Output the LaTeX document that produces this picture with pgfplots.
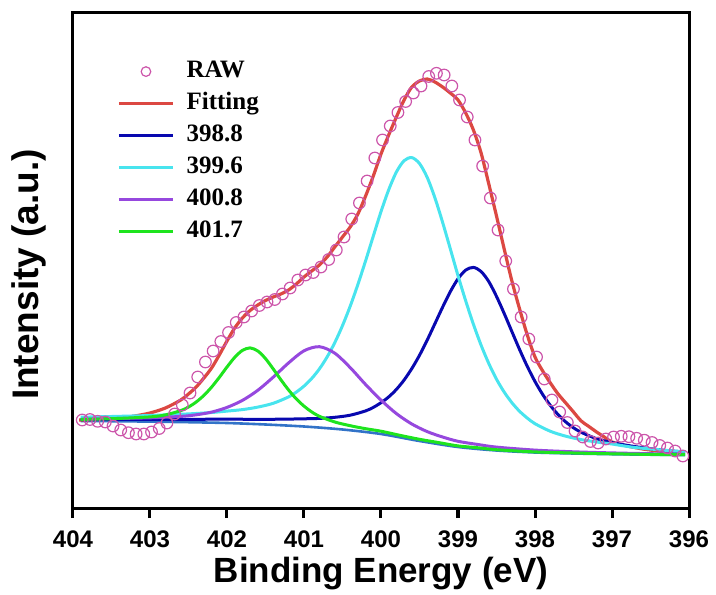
\documentclass[border=0pt]{standalone}
\usepackage{fontspec}
\setmainfont{Liberation Sans}
\newfontfamily\legendfont{Liberation Serif}
\usepackage{pgfplots}
\pgfplotsset{compat=1.18}

\definecolor{rawc}{RGB}{204,85,170}
\definecolor{fitc}{RGB}{220,72,66}
\definecolor{pkA}{RGB}{8,8,175}
\definecolor{pkB}{RGB}{72,228,238}
\definecolor{pkC}{RGB}{150,72,222}
\definecolor{pkD}{RGB}{30,228,30}
\definecolor{bgc}{RGB}{50,115,200}

\pgfplotsset{
  seg legend/.style={legend image code/.code={\draw[##1] (0pt,0pt) -- (27pt,0pt);}},
  circ legend/.style={legend image code/.code={\draw[##1, mark size=2.4pt] plot coordinates {(13.5pt,0pt)};}},
}

\begin{document}
\begin{tikzpicture}
\useasboundingbox (-36.5pt,-43pt) rectangle (321.5pt,254pt);
\begin{axis}[
  at={(0pt,0pt)}, anchor=south west,
  scale only axis, width=308pt, height=247.5pt,
  x dir=reverse, xmin=396, xmax=404, ymin=0, ymax=495,
  xtick={396,397,...,404}, ytick=\empty,
  tick pos=left, tick align=outside, major tick length=5pt,
  every tick/.style={black, line width=1.5pt},
  axis line style={line width=1.5pt},
  /pgf/number format/assume math mode=true,
  xticklabel style={font=\bfseries\fontsize{12}{14}\selectfont, yshift=-2.7pt},
  xlabel={Binding Energy (eV)},
  ylabel={Intensity (a.u.)},
  xlabel style={font=\bfseries\fontsize{17.5}{20}\selectfont,
    at={(axis description cs:0.5,-0.0978)}, anchor=north, inner sep=0pt},
  ylabel style={font=\bfseries\fontsize{18.5}{22}\selectfont,
    at={(axis description cs:-0.0425,0.4717)}, anchor=south, inner sep=0pt},
  legend style={draw=none, fill=none,
    at={(axis description cs:0.0714,0.9067)}, anchor=north west,
    inner sep=0pt, row sep=4pt, column sep=6pt,
    font=\legendfont\bfseries\fontsize{12.5}{15}\selectfont,
    nodes={inner sep=0pt, text height=9pt, text depth=3pt}},
  legend cell align=left,
  seg legend,
]

% background (Shirley-type)
\addplot[bgc, line width=1.3pt, smooth, forget plot] coordinates {
(403.9,86.9) (403.5,86.8) (403.0,86.4) (402.5,85.8) (402.0,85.0) (401.5,83.5)
(401.0,81.5) (400.5,78.5) (400.0,74.0) (399.5,67.0) (399.0,61.0) (398.5,57.5)
(398.0,55.5) (397.5,54.5) (397.0,53.8) (396.5,53.3) (396.05,53.0)};

% measured spectrum
\addplot[only marks, mark=o, mark size=2.9pt, mark options={draw=rawc, line width=0.6pt},
  circ legend]
coordinates {
(403.88,88) (403.78,88.5) (403.68,86.7) (403.58,86) (403.48,82) (403.38,78)
(403.28,75.3) (403.18,74) (403.08,74) (402.98,76) (402.88,79.5) (402.78,85)
(402.68,94) (402.58,103) (402.48,115) (402.38,131) (402.28,146) (402.18,157)
(402.08,166.5) (401.98,175.5) (401.88,185.5) (401.78,191) (401.68,197) (401.58,202.5)
(401.48,206) (401.38,208.5) (401.28,214) (401.18,220) (401.08,228) (400.98,233)
(400.88,235.5) (400.78,241) (400.68,248.5) (400.58,258) (400.48,271) (400.38,289)
(400.28,305) (400.18,327) (400.08,350) (399.98,368) (399.88,382) (399.78,395.5)
(399.68,406.5) (399.58,415) (399.48,422) (399.38,431.5) (399.28,434.7) (399.18,433)
(399.08,422) (398.98,408) (398.88,391) (398.78,368) (398.68,342) (398.58,310)
(398.48,278) (398.38,247) (398.28,219) (398.18,191) (398.08,169) (397.98,151)
(397.88,129) (397.78,108) (397.68,96) (397.58,85.5) (397.48,77) (397.38,71)
(397.28,66.5) (397.18,65) (397.08,69) (396.98,71) (396.88,71.7) (396.78,71.3)
(396.68,69.7) (396.58,67.8) (396.48,65.5) (396.38,62.5) (396.28,60) (396.18,57)
(396.08,52)};
\addlegendentry{RAW}

% envelope
\addplot[fitc, line width=1.6pt, smooth] coordinates {
(403.92,88) (403.7,88.5) (403.4,90) (403.2,92) (403.0,95) (402.8,100) (402.6,108)
(402.5,114) (402.4,121) (402.3,130) (402.2,140) (402.1,153) (402.0,167) (401.9,180)
(401.8,190) (401.7,197.5) (401.6,203) (401.5,207.5) (401.4,211) (401.3,214)
(401.2,218) (401.1,224) (401.0,231) (400.9,237) (400.8,243) (400.7,251) (400.6,261)
(400.5,271) (400.4,281) (400.3,294) (400.2,312) (400.1,332) (400.0,354) (399.9,373)
(399.8,391) (399.7,408) (399.6,421) (399.5,427) (399.4,429) (399.3,426) (399.2,421)
(399.1,415) (399.0,408) (398.9,395) (398.8,378) (398.7,355) (398.6,324) (398.5,292)
(398.4,259) (398.3,227) (398.2,199) (398.1,173) (398.0,151) (397.9,137) (397.8,125)
(397.7,114) (397.6,105) (397.5,96) (397.4,87) (397.3,81.5) (397.2,76) (397.1,71)
(397.0,66) (396.8,62) (396.6,59) (396.4,57) (396.2,55.5) (396.06,54)};
\addlegendentry{Fitting}

% component at 398.8 eV
\addplot[pkA, line width=1.5pt, smooth] coordinates {
(403.9,88.4) (403.5,88.6) (403.0,88.6) (402.5,88.7) (402.0,88.8) (401.6,88.7)
(401.3,88.8) (401.0,89.2) (400.8,89.6) (400.6,90.7) (400.4,92.8) (400.2,97.1)
(400.1,100.6) (400.0,105.3) (399.9,111.1) (399.8,118.6) (399.7,128.0) (399.6,139.4)
(399.5,152.7) (399.4,167.9) (399.3,184.3) (399.2,200.8) (399.1,216.3) (399.0,229.2)
(398.9,237.9) (398.8,240.6) (398.7,236.5) (398.6,226.4) (398.5,211.6) (398.4,194.5)
(398.3,176.4) (398.2,158.4) (398.1,141.6) (398.0,126.5) (397.9,113.5) (397.8,102.5)
(397.7,93.4) (397.6,86.0) (397.5,80.2) (397.4,75.7) (397.2,69.3) (397.0,65.4)
(396.8,62.6) (396.6,60.3) (396.3,57.5) (396.05,56.0)};
\addlegendentry{398.8}

% component at 399.6 eV
\addplot[pkB, line width=1.5pt, smooth] coordinates {
(403.9,90.8) (403.5,91.5) (403.0,92.5) (402.5,94.1) (402.2,95.5) (402.0,96.9)
(401.8,98.4) (401.6,100.9) (401.4,104.7) (401.2,111.1) (401.1,115.9) (401.0,121.9)
(400.9,129.5) (400.8,139.1) (400.7,151.0) (400.6,165.4) (400.5,182.4) (400.4,201.8)
(400.3,223.6) (400.2,247.2) (400.1,271.9) (400.0,296.3) (399.9,318.2) (399.8,336.0)
(399.7,347.3) (399.6,350.4) (399.5,344.5) (399.4,330.6) (399.3,310.2) (399.2,285.7)
(399.1,259.2) (399.0,232.4) (398.9,207.2) (398.8,183.8) (398.7,162.8) (398.6,144.5)
(398.5,128.8) (398.4,115.9) (398.3,105.3) (398.2,96.7) (398.1,89.9) (398.0,84.3)
(397.8,76.7) (397.6,71.8) (397.4,68.4) (397.2,66.0) (397.0,64.0) (396.7,60.5)
(396.2,57.0) (396.05,56.5)};
\addlegendentry{399.6}

% component at 400.8 eV
\addplot[pkC, line width=1.5pt, smooth] coordinates {
(403.9,88.7) (403.5,89.4) (403.0,90.2) (402.6,91.6) (402.4,93.2) (402.2,95.9)
(402.0,100.6) (401.8,107.6) (401.6,117.7) (401.4,130.8) (401.2,145.1) (401.0,157.2)
(400.8,161.3) (400.6,154.8) (400.4,140.4) (400.2,123.5) (400.0,107.9) (399.8,94.4)
(399.6,84.0) (399.4,76.4) (399.2,71.0) (399.0,66.7) (398.75,63.6) (398.5,60.9)
(398.0,57.9) (397.5,56.2) (397.0,55.1) (396.5,54.3) (396.05,53.8)};
\addlegendentry{400.8}

% component at 401.7 eV
\addplot[pkD, line width=1.5pt, smooth] coordinates {
(403.9,88.6) (403.5,89.3) (403.0,91.1) (402.8,93.1) (402.6,97.4) (402.5,101.0)
(402.4,106.0) (402.3,112.6) (402.2,120.9) (402.1,130.6) (402.0,141.0) (401.9,150.6)
(401.8,157.6) (401.7,160.1) (401.6,157.0) (401.5,149.4) (401.4,139.1) (401.3,128.2)
(401.2,118.0) (401.1,109.1) (401.0,101.9) (400.9,96.1) (400.8,91.7) (400.6,86.0)
(400.4,82.3) (400.2,79.3) (400.0,76.8) (399.75,72.6) (399.5,68.7) (399.25,65.4)
(399.0,62.1) (398.75,60.3) (398.5,58.3) (398.0,56.1) (397.5,55.0) (397.0,54.2)
(396.5,53.6) (396.05,53.3)};
\addlegendentry{401.7}

\end{axis}
\end{tikzpicture}
\end{document}
